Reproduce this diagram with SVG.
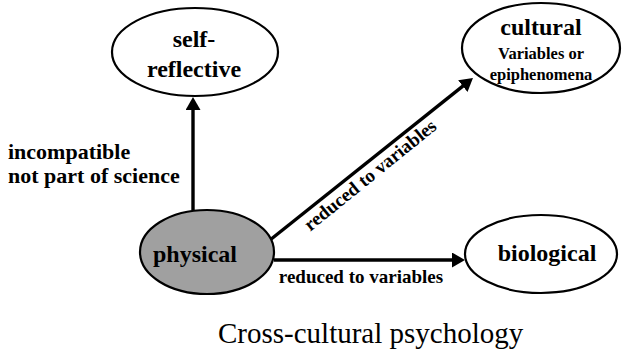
<svg xmlns="http://www.w3.org/2000/svg" width="622" height="351" viewBox="0 0 622 351">
  <defs>
    <marker id="arrow" viewBox="0 0 13 15" refX="6" refY="7.5" markerWidth="13" markerHeight="15" markerUnits="userSpaceOnUse" orient="auto">
      <path d="M0,0 L13,7.5 L0,15 z" fill="#000"/>
    </marker>
    <style>
      .node { fill: #fff; stroke: #000; stroke-width: 2.2; }
      .shaded { fill: #a0a0a0; }
      .edge { stroke: #000; stroke-width: 3.4; fill: none; marker-end: url(#arrow); }
      text { font-family: "Liberation Serif", "Times New Roman", serif; fill: #000; }
      .t { font-weight: bold; font-size: 24px; text-anchor: middle; }
      .s { font-weight: bold; font-size: 16.5px; text-anchor: middle; }
      .lbl { font-weight: bold; font-size: 19px; text-anchor: middle; }
      .side { font-weight: bold; font-size: 22px; }
    </style>
  </defs>
  <rect width="622" height="351" fill="#fff"/>

  <g id="connectors">
    <line class="edge" x1="193" y1="210" x2="193" y2="104"/>
    <line class="edge" x1="270" y1="240" x2="467.5" y2="82.4"/>
    <line class="edge" x1="274" y1="260" x2="458" y2="260"/>
    <text class="lbl" transform="translate(374,180) rotate(-39)">reduced to variables</text>
    <text class="lbl" x="361" y="283">reduced to variables</text>
    <text class="side" x="8" y="159">incompatible</text>
    <text class="side" x="8" y="183">not part of science</text>
  </g>

  <g id="self-reflective">
    <ellipse class="node" cx="195" cy="52" rx="83" ry="44"/>
    <text class="t" x="194" y="47">self-</text>
    <text class="t" x="194" y="77">reflective</text>
  </g>

  <g id="cultural">
    <ellipse class="node" cx="541" cy="48" rx="79" ry="45"/>
    <text class="t" x="541" y="35">cultural</text>
    <text class="s" x="541" y="59">Variables or</text>
    <text class="s" x="541" y="80">epiphenomena</text>
  </g>

  <g id="physical">
    <ellipse class="node shaded" cx="207" cy="252" rx="67" ry="42"/>
    <text class="t" x="195" y="262">physical</text>
  </g>

  <g id="biological">
    <ellipse class="node" cx="541" cy="254" rx="76" ry="39"/>
    <text class="t" x="547" y="261">biological</text>
  </g>

  <text x="218" y="343" font-size="29">Cross-cultural psychology</text>
</svg>
